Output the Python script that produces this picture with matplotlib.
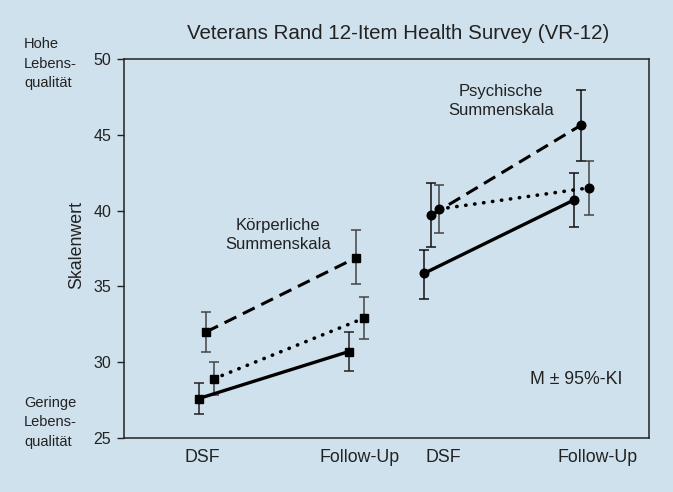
import numpy as np
import matplotlib.pyplot as plt

plt.rcParams['font.family'] = ['Liberation Sans', 'DejaVu Sans']

# x positions: DSF / Follow-Up of the two scales
x_phys = [0, 2]
x_ment = [3, 5]
offset = 0.1

# Körperliche Summenskala (squares)
phys_solid = [27.6, 30.7]
phys_solid_lo = [26.6, 29.4]
phys_solid_hi = [28.6, 32.0]
phys_dashed = [32.0, 36.9]
phys_dashed_lo = [30.7, 35.15]
phys_dashed_hi = [33.3, 38.7]
phys_dotted = [28.9, 32.9]
phys_dotted_lo = [27.85, 31.5]
phys_dotted_hi = [30.0, 34.3]

# Psychische Summenskala (circles)
ment_solid = [35.85, 40.7]
ment_solid_lo = [34.2, 38.9]
ment_solid_hi = [37.4, 42.5]
ment_dashed = [39.7, 45.65]
ment_dashed_lo = [37.6, 43.3]
ment_dashed_hi = [41.8, 47.95]
ment_dotted = [40.1, 41.5]
ment_dotted_lo = [38.5, 39.7]
ment_dotted_hi = [41.7, 43.3]

xtick_pos = [-0.05, 2.05, 3.16, 5.21]
xtick_labels = ['DSF', 'Follow-Up', 'DSF', 'Follow-Up']

bg = '#cfe1ed'
ink = '#222222'
fig = plt.figure(figsize=(6.73, 4.92), dpi=100, facecolor=bg)
ax = fig.add_axes([0.1837, 0.1098, 0.7806, 0.7703], facecolor=bg)


def series(xs, y, lo, hi, style, marker, ms, shift, ecol):
    xs = np.array(xs) + shift
    y = np.array(y)
    err = [y - np.array(lo), np.array(hi) - y]
    ax.errorbar(xs, y, yerr=err, fmt='none', ecolor=ecol, elinewidth=1.1,
                capsize=3.6, capthick=1.1, zorder=2)
    if style == 'solid':
        ax.plot(xs, y, color='black', lw=2.4, ls='-', zorder=3)
    elif style == 'dashed':
        ax.plot(xs, y, color='black', lw=2.2, ls=(0, (4.3, 2.4)), zorder=3)
    else:
        ax.plot(xs, y, color='black', lw=2.6, ls=(0, (0.1, 2.4)),
                dash_capstyle='round', zorder=3)
    ax.plot(xs, y, ls='none', marker=marker, ms=ms, color='black', zorder=4)


series(x_phys, phys_solid, phys_solid_lo, phys_solid_hi, 'solid', 's', 5.2, -offset, '#222222')
series(x_phys, phys_dashed, phys_dashed_lo, phys_dashed_hi, 'dashed', 's', 5.2, 0, '#444444')
series(x_phys, phys_dotted, phys_dotted_lo, phys_dotted_hi, 'dotted', 's', 5.2, offset, '#444444')
series(x_ment, ment_solid, ment_solid_lo, ment_solid_hi, 'solid', 'o', 6.2, -offset, '#111111')
series(x_ment, ment_dashed, ment_dashed_lo, ment_dashed_hi, 'dashed', 'o', 6.2, 0, '#111111')
series(x_ment, ment_dotted, ment_dotted_lo, ment_dotted_hi, 'dotted', 'o', 6.2, offset, '#444444')

ax.set_xlim(-1.1, 5.9)
ax.set_ylim(25, 50)
ax.set_yticks([25, 30, 35, 40, 45, 50])
ax.tick_params(axis='y', length=5, width=1, labelsize=11.5, pad=4, colors=ink)
ax.set_xticks(xtick_pos)
ax.set_xticklabels(xtick_labels)
ax.tick_params(axis='x', length=0, labelsize=12.8, pad=8, colors=ink)
for s in ax.spines.values():
    s.set_color(ink)
    s.set_linewidth(1.1)

ax.set_ylabel('Skalenwert', fontsize=12.8, color=ink)
ax.yaxis.set_label_coords(-0.0735, 0.509)

fig.text(0.5913, 0.931, 'Veterans Rand 12-Item Health Survey (VR-12)',
         ha='center', va='center', fontsize=14.8, color=ink)
fig.text(0.036, 0.870, 'Hohe\nLebens-\nqualität', ha='left', va='center',
         fontsize=10.5, color=ink, linespacing=1.5)
fig.text(0.036, 0.142, 'Geringe\nLebens-\nqualität', ha='left', va='center',
         fontsize=10.5, color=ink, linespacing=1.5)

ax.text(0.96, 38.39, 'Körperliche\nSummenskala', ha='center', va='center',
        fontsize=12, color=ink, linespacing=1.35)
ax.text(3.93, 47.23, 'Psychische\nSummenskala', ha='center', va='center',
        fontsize=12, color=ink, linespacing=1.35)
ax.text(4.93, 28.83, 'M ± 95%-KI', ha='center', va='center',
        fontsize=12.8, color=ink)

plt.savefig('out.png', dpi=100, facecolor=bg)
